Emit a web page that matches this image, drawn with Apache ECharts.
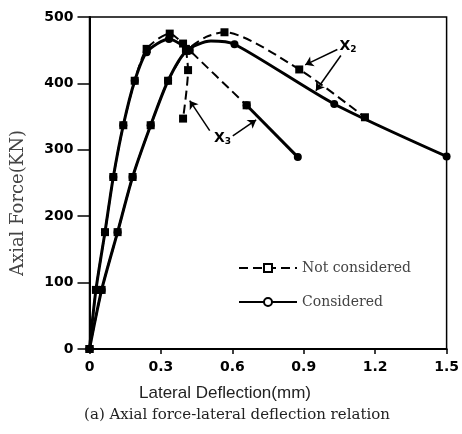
<!DOCTYPE html>
<html><head><meta charset="utf-8">
<script src="https://cdn.jsdelivr.net/npm/echarts@6/dist/echarts.min.js"></script>
<style>html,body{margin:0;padding:0;background:#fff}#c{width:462px;height:434px}</style>
</head><body><div id="c"></div>
<script>
// Axis ticks
const xTicks = [0, 0.3, 0.6, 0.9, 1.2, 1.5];
const yTicks = [0, 100, 200, 300, 400, 500];

// Lateral deflection (mm) vs axial force (kN), X3 case
const notX3 = [[0,0],[0.027,89],[0.065,176],[0.1,259],[0.142,337],[0.19,404],[0.24,452],[0.337,475],[0.393,460],[0.42,450],[0.66,367]];
const notX3Drop = [[0.405,452],[0.414,420],[0.393,347]];
const consX3 = [[0,0],[0.027,89],[0.065,176],[0.1,259],[0.142,337],[0.19,404],[0.24,447],[0.334,467],[0.42,450]];
const consX3Tail = [[0.66,367],[0.875,289]];

// X2 case
const notX2 = [[0,0],[0.051,89],[0.118,176],[0.181,259],[0.257,337],[0.33,404],[0.407,449],[0.49,470],[0.567,477],[0.881,421],[1.157,349]];
const consX2 = [[0,0],[0.051,89],[0.118,176],[0.181,259],[0.257,337],[0.33,404],[0.407,449],[0.51,464],[0.609,459],[1.028,369],[1.5,290]];

const NOT = 'Not considered';
const CONS = 'Considered';

// points along the dome that carry no test marker
const unmarked = { notX2: [7], consX2: [7] };

const sizeFn = (skip, size) => (val, p) => (skip.indexOf(p.dataIndex) >= 0 ? 0 : size);

const dashed = (name, data, skip = []) => ({
  name, type: 'line', data, smooth: 0.25,
  symbol: 'rect', symbolSize: sizeFn(skip, 8), showAllSymbol: true,
  lineStyle: { color: '#000', width: 2, type: [9, 5] },
  itemStyle: { color: '#000' },
  z: 3
});
const solid = (name, data, skip = []) => ({
  name, type: 'line', data, smooth: 0.25,
  symbol: 'circle', symbolSize: sizeFn(skip, 8), showAllSymbol: true,
  lineStyle: { color: '#000', width: 3 },
  itemStyle: { color: '#000' },
  z: 2
});

const chart = echarts.init(document.getElementById('c'));
const tickFont = { fontFamily: 'DejaVu Sans', fontWeight: 'bold', fontSize: 14, color: '#000' };

chart.setOption({
  animation: false,
  backgroundColor: '#fff',
  grid: { left: 89.5, right: 15, top: 17, bottom: 85, show: true, borderColor: '#000', borderWidth: 1.5 },
  xAxis: {
    type: 'value', min: xTicks[0], max: xTicks[xTicks.length - 1], interval: 0.3,
    axisLine: { lineStyle: { color: '#000', width: 2 } },
    axisTick: { inside: false, length: 5, lineStyle: { color: '#000', width: 1.5 } },
    splitLine: { show: false },
    axisLabel: Object.assign({ margin: 11, formatter: v => v === 0 ? '0' : v.toFixed(1) }, tickFont)
  },
  yAxis: {
    type: 'value', min: yTicks[0], max: yTicks[yTicks.length - 1], interval: 100,
    axisLine: { lineStyle: { color: '#000', width: 2 } },
    axisTick: { inside: false, length: 12, lineStyle: { color: '#000', width: 1.5 } },
    splitLine: { show: false },
    axisLabel: Object.assign({ margin: 16 }, tickFont)
  },
  legend: {
    orient: 'vertical', left: 238, top: 261, itemWidth: 58, itemHeight: 10, itemGap: 20,
    padding: 0, selectedMode: false,
    textStyle: { fontFamily: 'DejaVu Serif', fontSize: 14, color: '#444' },
    data: [
      { name: NOT, itemStyle: { color: '#fff', borderColor: '#000', borderWidth: 2 } },
      { name: CONS, itemStyle: { color: '#fff', borderColor: '#000', borderWidth: 2 } }
    ]
  },
  graphic: [
    { type: 'text', x: 18, y: 203, rotation: Math.PI / 2,
      style: { text: 'Axial Force(KN)', font: '18px "DejaVu Serif"', fill: '#444', align: 'center', verticalAlign: 'middle' } },
    { type: 'text', x: 225, y: 393,
      style: { text: 'Lateral Deflection(mm)', font: '17px "Liberation Sans"', fill: '#222', align: 'center', verticalAlign: 'middle' } },
    { type: 'text', x: 237, y: 415,
      style: { text: '(a) Axial force-lateral deflection relation', font: '15px "DejaVu Serif"', fill: '#222', align: 'center', verticalAlign: 'middle' } }
  ],
  series: [
    solid(CONS, consX3),
    solid(CONS, consX3Tail),
    solid(CONS, consX2, unmarked.consX2),
    dashed(NOT, notX3),
    dashed(NOT, notX3Drop),
    dashed(NOT, notX2, unmarked.notX2),
    {
      name: 'notes', type: 'line', data: [], silent: true,
      markLine: {
        silent: true, symbol: ['none', 'arrow'], symbolSize: 8,
        lineStyle: { color: '#000', width: 1.5, type: 'solid' },
        label: { show: false },
        data: [
          [{ coord: [0.505, 329] }, { coord: [0.421, 374] }],
          [{ coord: [0.602, 321] }, { coord: [0.70, 345] }],
          [{ coord: [1.041, 451] }, { coord: [0.906, 428] }],
          [{ coord: [1.056, 442] }, { coord: [0.951, 389] }]
        ]
      },
      markPoint: {
        silent: true, symbol: 'circle', symbolSize: 0,
        label: {
          show: true, position: 'inside', color: '#000',
          rich: {
            x: { fontFamily: 'DejaVu Sans', fontWeight: 'bold', fontSize: 14 },
            s: { fontFamily: 'DejaVu Sans', fontWeight: 'bold', fontSize: 9, verticalAlign: 'bottom', padding: [7, 0, 0, 0] }
          }
        },
        data: [
          { coord: [0.559, 317], label: { formatter: '{x|X}{s|3}' } },
          { coord: [1.086, 456], label: { formatter: '{x|X}{s|2}' } }
        ]
      }
    }
  ]
});
</script>
</body></html>
